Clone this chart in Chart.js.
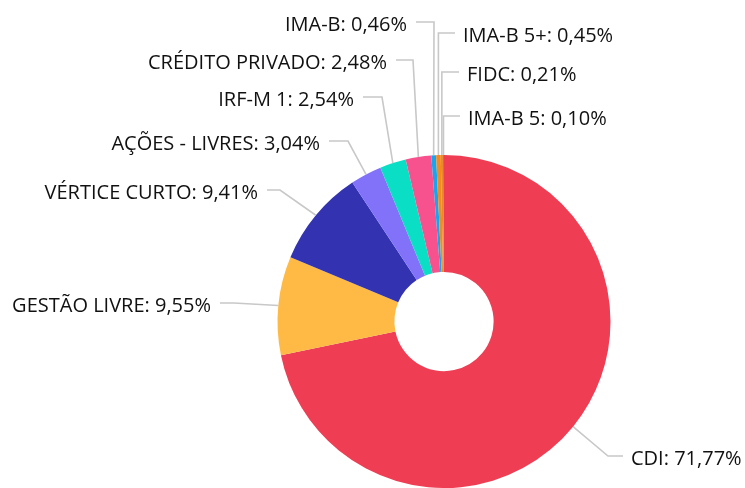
<!DOCTYPE html>
<html>
<head>
<meta charset="utf-8">
<script src="https://cdn.jsdelivr.net/npm/chart.js@4"></script>
<style>
  html, body { margin: 0; padding: 0; background: #fff; overflow: hidden; }
  #wrap { width: 745px; height: 488px; }
</style>
</head>
<body>
<div id="wrap"><canvas id="c" width="745" height="488"></canvas></div>
<script>
// ---- data ----
const categories = ["CDI", "GESTÃO LIVRE", "VÉRTICE CURTO", "AÇÕES - LIVRES", "IRF-M 1", "CRÉDITO PRIVADO", "IMA-B", "IMA-B 5+", "FIDC", "IMA-B 5"];
const shares = [71.77, 9.55, 9.41, 3.04, 2.54, 2.48, 0.46, 0.45, 0.21, 0.10];

// ---- styles ----
const colors = ["#EF3D53", "#FFBA45", "#3333B2", "#8271F9", "#0ADFC6", "#F7528E", "#17A6EE", "#F58A1F", "#E98B2A", "#3A9BD9"];

// ---- label layout (annotation placement) ----
const labelSide  = ["right", "left", "left", "left", "left", "left", "left", "right", "right", "right"];
const labelLineY = [456, 303, 190, 141, 97, 60, 22, 33, 72, 116];
const labelBendX = [608, 234, 280, 348, 382, 413, 434, null, null, null];
const labelTextX = [631, 211, 258, 320, 354, 387, 407, 463, 467, 468];

const fmt = v => v.toFixed(2).replace('.', ',') + '%';

const leaderPlugin = {
  id: 'leaders',
  afterDatasetsDraw(chart) {
    const ctx = chart.ctx;
    const meta = chart.getDatasetMeta(0);
    ctx.save();
    meta.data.forEach((arc, i) => {
      const p = arc.getProps(['x', 'y', 'startAngle', 'endAngle', 'outerRadius'], true);
      const mid = (p.startAngle + p.endAngle) / 2;
      const x0 = p.x + Math.cos(mid) * p.outerRadius;
      const y0 = p.y + Math.sin(mid) * p.outerRadius;
      const ly = labelLineY[i];
      const bx = labelBendX[i] == null ? x0 : labelBendX[i];
      const right = labelSide[i] === 'right';
      const ex = right ? labelTextX[i] - 8 : labelTextX[i] + 9;
      ctx.beginPath();
      ctx.strokeStyle = '#c8c8c8';
      ctx.lineWidth = 1.6;
      ctx.moveTo(x0, y0);
      ctx.lineTo(bx, ly);
      ctx.lineTo(ex, ly);
      ctx.stroke();
      ctx.fillStyle = '#111111';
      ctx.font = '20px "Open Sans"';
      ctx.textAlign = right ? 'left' : 'right';
      ctx.textBaseline = 'alphabetic';
      ctx.fillText(categories[i] + ': ' + fmt(shares[i]), labelTextX[i], ly + 9);
    });
    ctx.restore();
  }
};

new Chart(document.getElementById('c'), {
  type: 'doughnut',
  data: {
    labels: categories,
    datasets: [{
      data: shares,
      backgroundColor: colors,
      borderWidth: 0,
      hoverOffset: 0
    }]
  },
  options: {
    responsive: false,
    animation: false,
    devicePixelRatio: 1,
    cutout: '29.8%',
    layout: { padding: { left: 276, right: 133, top: 155, bottom: -3 } },
    plugins: {
      legend: { display: false },
      tooltip: { enabled: false }
    }
  },
  plugins: [leaderPlugin]
});
</script>
</body>
</html>
